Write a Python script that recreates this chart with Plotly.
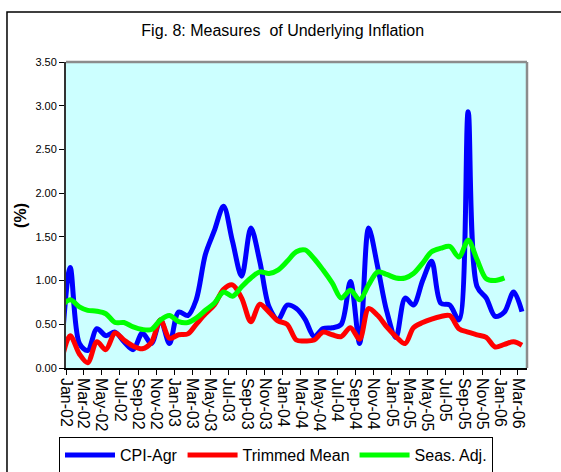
import plotly.graph_objects as go
import pandas as pd

# Monthly observations (mid-month), Dec-01 .. Mar-06 (Dec-01 only partly visible at the axis edge)
month_dates = pd.date_range("2001-12-01", "2006-03-01", freq="MS") + pd.Timedelta(days=14)

cpi_agr = [0.10,
           1.15, 0.28, 0.20, 0.45, 0.37, 0.41, 0.30, 0.21, 0.40, 0.28, 0.55, 0.28,
           0.64, 0.60, 0.78, 1.30, 1.57, 1.85, 1.45, 1.05, 1.60, 1.22, 0.70, 0.55,
           0.72, 0.68, 0.56, 0.36, 0.45, 0.46, 0.50, 0.99, 0.28, 1.60, 1.15, 0.65,
           0.35, 0.80, 0.72, 1.00, 1.22, 0.74, 0.72, 0.55, 2.93, 0.93, 0.80, 0.59,
           0.64, 0.87, 0.645]

trimmed_mean = [0.05,
                0.37, 0.16, 0.06, 0.30, 0.21, 0.40, 0.32, 0.25, 0.22, 0.29, 0.55, 0.34,
                0.38, 0.39, 0.50, 0.62, 0.72, 0.90, 0.95, 0.80, 0.53, 0.73, 0.64, 0.54,
                0.50, 0.32, 0.31, 0.32, 0.41, 0.38, 0.36, 0.46, 0.33, 0.68, 0.60, 0.47,
                0.36, 0.28, 0.46, 0.52, 0.56, 0.59, 0.60, 0.45, 0.41, 0.38, 0.35, 0.24,
                0.27, 0.30, 0.26]

seas_adj = [0.70,
            0.78, 0.70, 0.66, 0.65, 0.62, 0.52, 0.52, 0.47, 0.44, 0.44, 0.55, 0.60,
            0.53, 0.52, 0.57, 0.66, 0.74, 0.87, 0.82, 0.93, 1.03, 1.10, 1.08, 1.12,
            1.22, 1.33, 1.35, 1.25, 1.12, 0.97, 0.80, 0.89, 0.78, 0.95, 1.10, 1.07,
            1.03, 1.03, 1.08, 1.20, 1.33, 1.37, 1.39, 1.27, 1.46, 1.24, 1.02, 1.00,
            1.03, None, None]

tick_labels = ["Jan-02", "Mar-02", "May-02", "Jul-02", "Sep-02", "Nov-02",
               "Jan-03", "Mar-03", "May-03", "Jul-03", "Sep-03", "Nov-03",
               "Jan-04", "Mar-04", "May-04", "Jul-04", "Sep-04", "Nov-04",
               "Jan-05", "Mar-05", "May-05", "Jul-05", "Sep-05", "Nov-05",
               "Jan-06", "Mar-06"]
tick_dates = pd.date_range("2002-01-01", "2006-03-01", freq="2MS")

y_ticks = [0.0, 0.5, 1.0, 1.5, 2.0, 2.5, 3.0, 3.5]

FONT = "Liberation Sans, Arial, sans-serif"

fig = go.Figure()
for name, vals, color in [("CPI-Agr", cpi_agr, "#0000FF"),
                          ("Trimmed Mean", trimmed_mean, "#FF0000"),
                          ("Seas. Adj.", seas_adj, "#00FF00")]:
    fig.add_trace(go.Scatter(x=month_dates, y=vals, name=name, mode="lines",
                             line=dict(color=color, width=5, shape="spline", smoothing=0.9),
                             connectgaps=False))

fig.update_layout(
    width=561, height=472,
    margin=dict(l=66, r=34, t=62, b=104, autoexpand=False),
    paper_bgcolor="white",
    plot_bgcolor="#CCFFFF",
    font=dict(family=FONT, color="black"),
    title=dict(text="Fig. 8: Measures \u00a0of Underlying Inflation",
               x=0.504, xanchor="center", y=1 - 30 / 472, yanchor="middle",
               font=dict(size=16, family=FONT, color="black")),
    showlegend=True,
    legend=dict(orientation="h", xref="container", yref="container",
                x=59 / 561, xanchor="left", y=1 - 437 / 472, yanchor="top",
                bordercolor="black", borderwidth=1, bgcolor="white",
                font=dict(size=16, family=FONT, color="black"),
                itemwidth=50, tracegroupgap=0, itemsizing="constant"),
    xaxis=dict(type="date", range=["2002-01-01", "2006-04-01"], automargin=False,
               tickvals=tick_dates, ticktext=tick_labels, tickangle=90,
               ticks="outside", ticklen=5, tickcolor="black",
               showline=True, linecolor="black", linewidth=1.5,
               showgrid=False, zeroline=False,
               tickfont=dict(size=16, family=FONT, color="black")),
    yaxis=dict(range=[0, 3.5], tickvals=y_ticks, tickformat=".2f", automargin=False,
               ticks="outside", ticklen=5, tickcolor="black",
               showline=True, linecolor="#333333", linewidth=2,
               showgrid=False, zeroline=False,
               tickfont=dict(size=11, family=FONT, color="black")),
    annotations=[dict(text="<b>(%)</b>", x=-0.1, y=0.5, xref="paper", yref="paper",
                      xanchor="center", yanchor="middle", textangle=-90, showarrow=False,
                      font=dict(size=16, family=FONT, color="black"))],
    shapes=[
        dict(type="line", xref="paper", yref="paper", x0=0, x1=1, y0=1, y1=1,
             line=dict(color="#8C8C8C", width=2.5), layer="above"),
        dict(type="line", xref="paper", yref="paper", x0=1, x1=1, y0=0, y1=1,
             line=dict(color="#8C8C8C", width=2.5), layer="above"),
        dict(type="rect", xref="paper", yref="paper", x0=-0.128, x1=1.3, y0=-0.6, y1=1.1634,
             line=dict(color="black", width=1.5), fillcolor="rgba(0,0,0,0)", layer="below"),
    ],
)

fig.write_html("out.html", config={"displayModeBar": False},
               post_script="document.body.style.margin='0';document.body.style.overflow='hidden';")
